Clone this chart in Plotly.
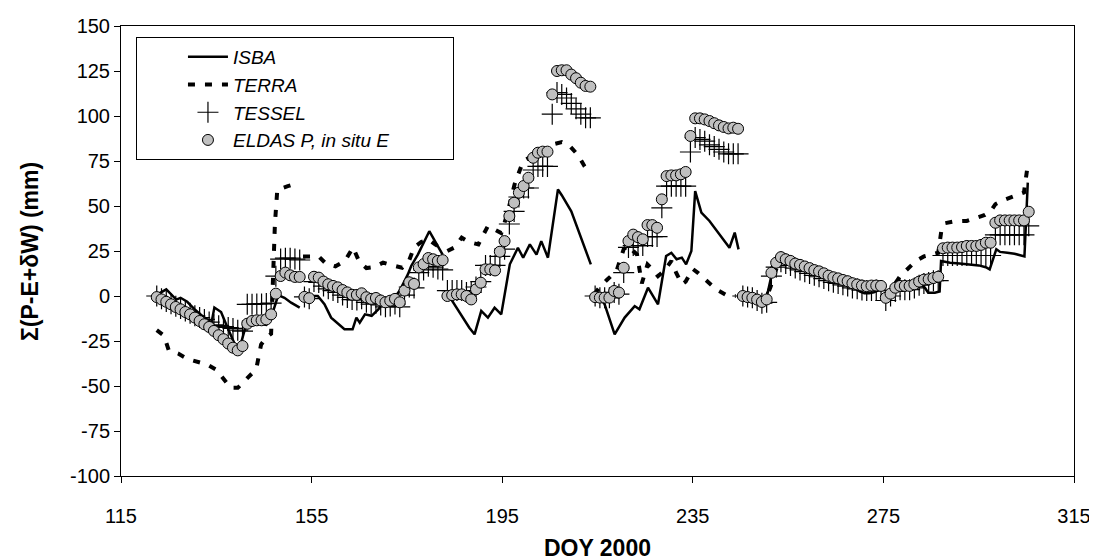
import plotly.graph_objects as go

# ---------------- data ----------------
# daily DOY positions (markers), May 1 (DOY 122) .. Nov 1 (DOY 305), plotted at mid-day
doy_daily = [d + 0.5 for d in range(122, 306)]

eldas_may = [-0.6, -1.9, -3.2, -4.6, -6.1, -7.4, -8.9, -10.2, -12.0, -13.9, -15.7, -17.2, -19.4, -21.8, -24.0,
             -26.4, -28.7, -30.2, -27.8, -15.4, -13.9, -13.5, -13.5, -13.0, -10.2, 1.3, 11.1, 13.0, 11.5, 10.6, 10.6]
eldas_jun = [-0.5, -1.2, 10.7, 10.2, 8.0, 6.5, 5.6, 4.8, 3.3, 2.0, 0.7, 0.6, 1.5, -0.7, -1.6, -1.1, -2.5, -3.5,
             -2.6, -1.6, -3.5, 3.0, 7.6, 6.7, 15.9, 17.7, 21.1, 20.4, 19.5, 19.9]
eldas_jul = [0.0, 0.5, 0.9, 0.9, 0.0, -1.9, 3.7, 7.4, 14.8, 14.8, 14.2, 24.6, 30.5, 44.4, 51.8, 57.4, 61.1, 65.7,
             76.8, 79.6, 80.2, 80.2, 112.0, 125.0, 125.4, 125.4, 123.0, 121.0, 118.5, 116.7, 116.3]
eldas_aug = [-0.6, -0.9, -0.9, -0.9, 2.8, 1.9, 15.7, 30.5, 34.1, 32.7, 31.5, 39.4, 39.4, 37.9, 53.7, 66.6, 67.0,
             67.0, 67.6, 68.9, 88.9, 98.7, 98.7, 98.1, 97.2, 96.0, 94.8, 93.9, 93.1, 93.5, 92.9]
eldas_sep = [0.0, -0.6, -1.0, -2.0, -3.3, -1.9, 12.9, 18.5, 21.6, 20.4, 19.5, 18.0, 17.3, 16.4, 15.5, 14.4, 13.7,
             12.6, 11.3, 10.4, 9.8, 8.9, 8.2, 7.1, 6.4, 5.8, 5.4, 5.8, 5.8, 5.6]
eldas_oct = [-1.0, 1.3, 4.6, 5.6, 5.6, 5.6, 6.5, 8.0, 9.1, 9.3, 10.0, 10.7, 26.5, 26.9, 26.9, 26.9, 27.2, 27.8,
             27.8, 27.8, 28.4, 29.6, 29.6, 40.7, 42.0, 42.0, 42.0, 42.0, 42.0, 42.0, 46.8]

tessel_may = [0.0, -1.5, -3.0, -4.3, -5.7, -7.0, -8.4, -9.6, -11.0, -12.0, -13.0, -14.5, -16.0, -16.5, -17.0,
              -17.5, -18.0, -19.0, -19.5, -4.6, -4.6, -4.4, -4.4, -4.2, -4.0, 11.0, 20.5, 21.0, 21.0, 20.5, 20.0]
tessel_jun = [-0.5, -1.5, 8.0, 7.5, 5.5, 4.0, 3.0, 2.0, 0.5, -0.8, -2.0, -2.2, -1.5, -3.5, -4.5, -4.0, -5.0, -6.0,
              -5.5, -4.5, -6.0, 0.5, 5.0, 4.5, 13.0, 14.5, 16.5, 16.0, 15.0, 14.5]
tessel_jul = [3.0, 3.0, 3.0, 3.0, 2.0, 2.0, 5.0, 8.0, 17.0, 17.0, 17.0, 22.0, 26.0, 40.0, 47.0, 55.0, 60.0, 60.0,
              70.0, 72.0, 72.0, 72.0, 101.0, 113.0, 112.0, 110.0, 107.0, 104.0, 101.0, 99.0, 99.0]
tessel_aug = [0.0, -1.0, -1.0, -1.0, 2.0, 1.0, 13.0, 27.0, 28.0, 28.0, 28.0, 33.0, 33.0, 33.0, 49.0, 61.0, 61.0,
              61.0, 61.0, 61.0, 80.0, 88.0, 87.0, 86.0, 84.0, 83.0, 81.5, 80.0, 79.0, 79.0, 79.0]
tessel_sep = [0.0, -0.6, -1.0, -2.5, -4.0, -3.5, 11.0, 16.0, 19.0, 18.0, 17.0, 15.5, 14.5, 13.5, 12.5, 11.5, 10.7,
              9.7, 8.5, 7.6, 7.0, 6.2, 5.5, 4.5, 4.0, 3.3, 3.0, 3.0, 3.3, 3.0]
tessel_oct = [-2.5, 0.0, 2.5, 3.5, 3.5, 3.5, 4.5, 6.0, 7.0, 7.5, 8.5, 8.5, 22.5, 22.5, 22.5, 22.5, 22.5, 22.5,
              22.5, 22.5, 22.5, 22.5, 22.5, 34.0, 34.0, 34.0, 34.0, 34.0, 34.0, 34.0, 39.0]

eldas = eldas_may + eldas_jun + eldas_jul + eldas_aug + eldas_sep + eldas_oct
tessel = tessel_may + tessel_jun + tessel_jul + tessel_aug + tessel_sep + tessel_oct

# ISBA line vertices (None = break between months)
isba_doy = [122.4, 124.5, 126.6, 127.5, 128.9, 130.6, 132.5, 134.0, 134.6, 136.0, 137.3, 139.2, 140.2, 141.3,
            143.0, 145.5, 146.5, 148.0, 149.3, 150.7, 152.5, None,
            154.2, 154.9, 156.3, 157.7, 159.1, 160.5, 161.9, 163.6, 164.4, 165.1, 166.2, 167.6, 169.0, 170.4,
            172.5, 173.5, 175.2, 175.9, 177.3, 179.7, 181.5, 182.5, None,
            183.6, 184.7, 186.8, 188.1, 189.2, 190.6, 192.0, 193.4, 194.8, 195.5, 196.6, 198.3, 199.4, 200.8,
            202.2, 203.2, 204.6, 206.7, 207.5, 209.5, 211.6, 213.6, None,
            215.2, 216.5, 218.6, 220.7, 222.8, 223.8, 225.6, 227.7, 229.4, 230.5, 231.6, 232.7, 233.6, 234.7,
            235.5, 236.8, 238.5, 240.6, 242.7, 243.8, 244.6, None,
            245.2, 246.3, 247.3, 248.3, 249.4, 250.4, 251.4, 252.5, 253.4, 255.0, 258.0, 261.0, 264.0, 267.0,
            269.0, 270.0, 271.0, 272.0, 273.0, 274.3, None,
            275.6, 276.5, 277.6, 279.0, 281.0, 282.8, 283.7, 284.4, 285.8, 286.8, 287.1, 289.0, 291.0, 293.0,
            295.0, 296.5, 297.3, 298.7, 299.5, 301.0, 302.5, 304.6, 305.3]
isba_val = [0.5, 3.7, -2.0, -1.0, -3.2, -7.8, -12.0, -14.7, -6.4, -8.9, -17.2, -28.7, -26.0, -15.7,
            -15.0, -16.0, -12.0, 0.5, -1.0, -3.7, -6.5, None,
            -2.8, 0.0, 0.0, -4.6, -12.0, -15.0, -18.5, -18.5, -12.0, -14.8, -10.2, -11.0, -7.4, -2.8,
            -0.6, 3.0, 12.0, 16.7, 23.0, 36.0, 27.8, 23.0, None,
            1.0, -3.7, -12.0, -17.6, -21.3, -8.3, -12.0, -6.5, -10.2, 0.0, 17.6, 26.8, 21.3, 28.7,
            23.0, 30.5, 21.3, 59.2, 56.0, 47.0, 32.4, 17.6, None,
            0.0, -4.6, -21.3, -12.0, -5.6, -7.4, 4.6, -4.6, 22.2, 24.0, 20.4, 21.3, 17.6, 25.0,
            58.3, 46.3, 41.7, 34.2, 26.8, 35.2, 25.9, None,
            0.0, -0.6, -1.0, -2.0, -3.3, -2.0, 10.0, 17.0, 20.0, 19.0, 16.0, 13.0, 9.5, 7.0,
            5.0, 2.5, 1.5, 1.5, 2.0, 3.5, None,
            -1.0, 1.0, 4.0, 5.0, 5.5, 6.5, 4.6, 1.8, 1.8, 2.5, 19.4, 18.5, 18.0, 17.5,
            17.0, 16.0, 14.8, 26.0, 24.5, 24.0, 23.5, 22.0, 63.0]

# TERRA dashed-line vertices
terra_doy = [122.5, 124.0, 125.0, 127.0, 129.0, 131.0, 133.0, 135.0, 136.5, 138.0, 139.5, 141.0, 142.5, 143.5,
             144.4, 145.5, 146.5, 147.3, 147.8, 150.0, 152.5, None,
             153.2, 156.5, 158.0, 160.0, 162.0, 163.7, 165.0, 166.5, 168.0, 170.0, 172.0, 174.0, 175.5, 176.5,
             178.0, 179.5, 181.0, 182.5, None,
             183.5, 185.0, 186.5, 188.0, 190.0, 192.0, 194.8, 196.0, 197.6, 199.4, 201.5, 204.5, 206.0, 207.5,
             209.2, 211.0, 212.3, 213.5, None,
             214.3, 215.5, 217.0, 219.0, 220.5, 221.5, 222.5, 223.3, 224.3, 225.5, 226.5, 227.7, 229.0, 230.5,
             231.5, 232.7, 233.5, 235.0, 236.0, 238.3, 240.0, 242.4, 244.0, None,
             245.3, 247.0, 249.0, 250.3, 251.3, 252.2, 253.0, 254.0, 257.0, 260.0, 265.0, 270.0, 274.0, None,
             275.3, 277.0, 278.5, 280.0, 281.8, 283.5, 285.5, 286.5, 287.2, 288.0, 290.0, 292.5, 294.0, 296.3,
             297.5, 298.5, 300.0, 302.0, 304.5, 305.3]
terra_val = [-19.0, -22.0, -30.0, -32.0, -35.0, -36.5, -38.0, -41.0, -46.0, -51.0, -51.0, -47.0, -43.0, -39.0,
             -27.0, -23.0, -21.0, 40.0, 59.0, 61.0, 63.0, None,
             22.0, 22.0, 18.0, 16.5, 19.5, 27.0, 19.0, 15.5, 16.0, 18.5, 17.0, 15.7, 20.0, 27.0,
             30.0, 31.5, 28.5, 26.0, None,
             25.0, 27.0, 32.4, 30.0, 28.7, 38.9, 35.0, 45.0, 62.0, 75.0, 78.0, 80.0, 84.5, 85.5,
             83.3, 78.0, 72.0, 68.0, None,
             1.0, 5.0, 9.0, 14.0, 26.0, 28.0, 25.0, 23.0, 7.0, 17.5, 15.0, 11.0, 14.0, 19.5,
             13.0, 6.5, 8.0, 15.0, 13.0, 7.4, 3.5, 0.0, 0.0, None,
             0.0, -1.0, -3.0, -2.0, 5.0, 12.0, 19.0, 20.0, 17.0, 15.0, 10.5, 6.0, 4.0, None,
             0.0, 5.0, 11.0, 15.0, 19.4, 22.0, 23.0, 24.0, 37.0, 40.5, 41.5, 41.7, 43.0, 45.0,
             47.0, 51.0, 53.0, 55.0, 57.5, 73.0]

x_ticks = [115, 155, 195, 235, 275, 315]
y_ticks = [-100, -75, -50, -25, 0, 25, 50, 75, 100, 125, 150]
x_title = "<b>DOY 2000</b>"
y_title = "<b>Σ(P-E+δW) (mm)</b>"

FONT = "Arial, Liberation Sans, sans-serif"

fig = go.Figure()
fig.add_trace(go.Scatter(x=isba_doy, y=isba_val, mode="lines", name="<i>ISBA</i>",
                         line=dict(color="black", width=2.5), connectgaps=False, legendgroup="a"))
fig.add_trace(go.Scatter(x=terra_doy, y=terra_val, mode="lines", name="<i>TERRA</i>",
                         line=dict(color="black", width=4, dash="7px,10px"), connectgaps=False,
                         legendgroup="b"))
fig.add_trace(go.Scatter(x=doy_daily, y=tessel, mode="markers", name="<i>TESSEL</i>",
                         marker=dict(symbol="cross-thin", size=15, color="black",
                                     line=dict(color="black", width=1.2)), legendgroup="c"))
fig.add_trace(go.Scatter(x=doy_daily, y=eldas, mode="markers",
                         name="<i>ELDAS P, in situ E</i>" + "&nbsp;" * 11,
                         marker=dict(symbol="circle", size=11, color="#c0c0c0",
                                     line=dict(color="black", width=1)), legendgroup="d"))

fig.update_layout(
    width=1097, height=560,
    margin=dict(l=113, r=31, t=18, b=92, autoexpand=False),
    paper_bgcolor="white", plot_bgcolor="white",
    font=dict(family=FONT, size=20, color="black"),
    showlegend=True,
    legend=dict(x=0.0157, y=0.9756, xanchor="left", yanchor="top",
                bgcolor="white", bordercolor="black", borderwidth=1,
                font=dict(family=FONT, size=19, color="black"),
                tracegroupgap=0, indentation=46, itemwidth=40),
    xaxis=dict(range=[115, 315], tickmode="array", tickvals=x_ticks,
               ticktext=[str(v) for v in x_ticks], automargin=False,
               showline=True, linecolor="black", linewidth=1, mirror=True,
               ticks="outside", ticklen=6, tickcolor="black", showgrid=False, zeroline=False,
               ticklabelstandoff=16),
    yaxis=dict(range=[-100, 150], tickmode="array", tickvals=y_ticks,
               ticktext=[str(v) for v in y_ticks], automargin=False,
               showline=True, linecolor="black", linewidth=1, mirror=True,
               ticks="outside", ticklen=6, tickcolor="black", showgrid=False, zeroline=False),
    annotations=[
        dict(text=x_title, xref="paper", yref="paper", x=0.5, y=-0.16, xanchor="center",
             yanchor="middle", showarrow=False, font=dict(family=FONT, size=23, color="black")),
        dict(text=y_title, xref="paper", yref="paper", x=-0.0955, y=0.5, xanchor="center",
             yanchor="middle", textangle=-90, showarrow=False,
             font=dict(family=FONT, size=23, color="black")),
    ],
)

fig.write_html("out.html")
